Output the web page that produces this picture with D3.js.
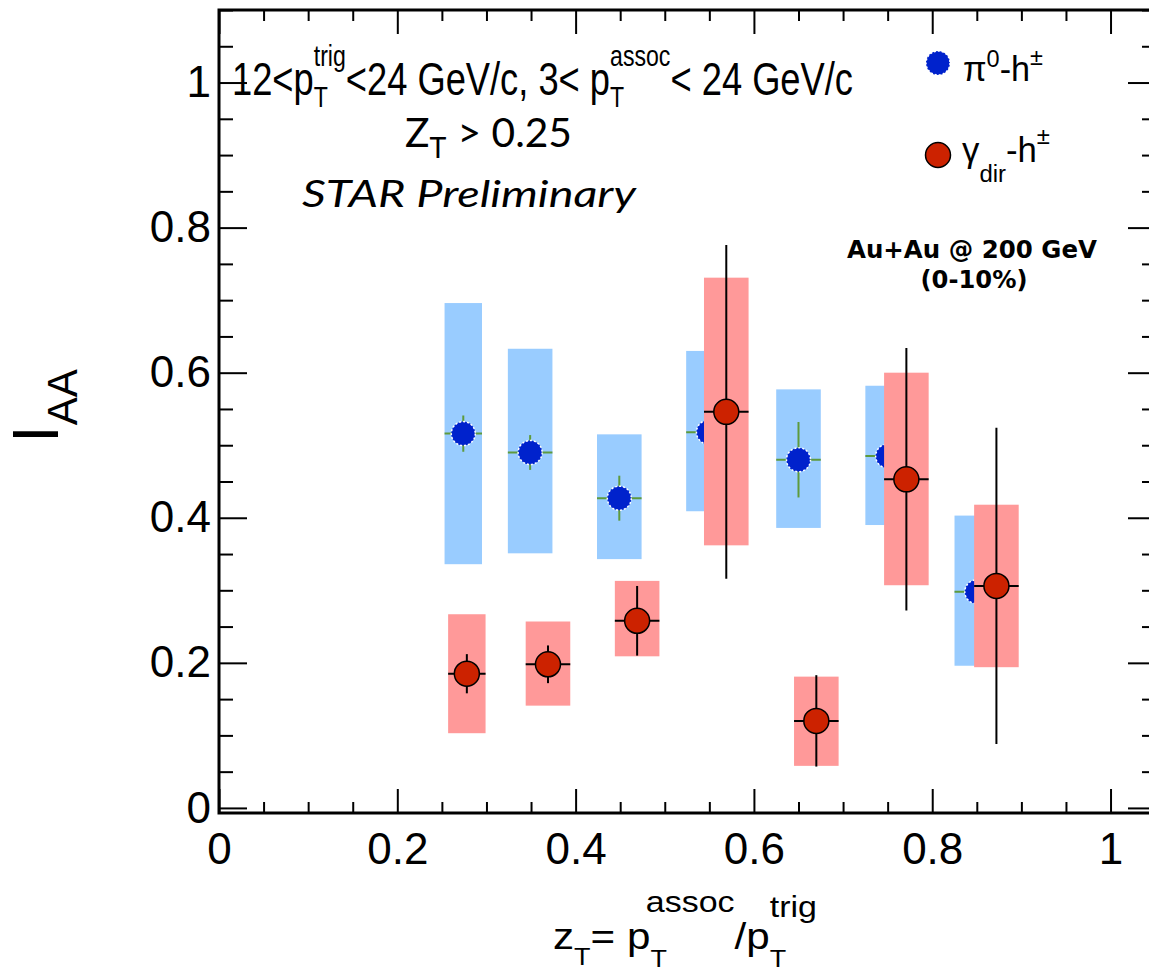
<!DOCTYPE html>
<html>
<head>
<meta charset="utf-8">
<script src="https://cdn.jsdelivr.net/npm/d3@7"></script>
<style>
  html, body { margin: 0; padding: 0; background: #fff; }
  svg { display: block; }
</style>
</head>
<body>
<svg id="chart" width="1149" height="974"></svg>
<script>
// ---- data: I_AA vs z_T, Au+Au 200 GeV (0-10%) ----
// pi0-h± correlations
const pionZt      = [0.274, 0.349, 0.449, 0.549, 0.650, 0.750, 0.850];
const pionIaa     = [0.516, 0.490, 0.427, 0.518, 0.480, 0.485, 0.298];
const pionStat    = [0.025, 0.024, 0.031, 0.025, 0.052, 0.030, 0.030];
const pionSysLo   = [0.336, 0.351, 0.343, 0.409, 0.386, 0.390, 0.196];
const pionSysHi   = [0.696, 0.633, 0.515, 0.630, 0.577, 0.582, 0.403];
const pionHalfBin = [0.021, 0.025, 0.025, 0.025, 0.025, 0.025, 0.025];

// direct gamma-h± correlations
const gammaZt      = [0.278, 0.369, 0.469, 0.569, 0.670, 0.771, 0.872];
const gammaIaa     = [0.185, 0.198, 0.258, 0.546, 0.120, 0.453, 0.306];
const gammaStat    = [0.027, 0.026, 0.048, 0.230, 0.063, 0.181, 0.218];
const gammaSysLo   = [0.103, 0.141, 0.209, 0.362, 0.058, 0.307, 0.194];
const gammaSysHi   = [0.267, 0.257, 0.313, 0.731, 0.181, 0.600, 0.418];
const gammaHalfBin = [0.021, 0.025, 0.025, 0.025, 0.025, 0.025, 0.025];

// axis ticks
const xMajorTicks = [0, 0.2, 0.4, 0.6, 0.8, 1];
const xTickLabels = ["0", "0.2", "0.4", "0.6", "0.8", "1"];
const yMajorTicks = [0, 0.2, 0.4, 0.6, 0.8, 1];
const yTickLabels = ["0", "0.2", "0.4", "0.6", "0.8", "1"];
const minorStep = 0.05;

// ---- layout ----
const frame = { left: 219, right: 1156, top: 10, bottom: 813 };
const svg = d3.select("#chart");

const x = d3.scaleLinear().domain([0, 1.051]).range([frame.left, frame.right]);
const y = d3.scaleLinear().domain([-0.007, 1.1]).range([frame.bottom, frame.top]);

const colors = {
  pionBox: "#99ccff", pionDot: "#0022cc", pionErr: "#5e9a3c",
  gammaBox: "#ff9999", gammaDot: "#cc2200", gammaErr: "#000000"
};

function series(zt, iaa, stat, lo, hi, half) {
  return zt.map((z, i) => ({ z, v: iaa[i], e: stat[i], lo: lo[i], hi: hi[i], h: half[i] }));
}
const pion = series(pionZt, pionIaa, pionStat, pionSysLo, pionSysHi, pionHalfBin);
const gamma = series(gammaZt, gammaIaa, gammaStat, gammaSysLo, gammaSysHi, gammaHalfBin);

const plot = svg.append("g");

function drawSeries(data, boxColor, errColor, dotColor, dotStroke, dash, r, errW) {
  const g = plot.append("g");
  g.selectAll("rect.sys").data(data).join("rect")
    .attr("x", d => x(d.z - d.h)).attr("width", d => x(d.z + d.h) - x(d.z - d.h))
    .attr("y", d => y(d.hi)).attr("height", d => y(d.lo) - y(d.hi))
    .attr("fill", boxColor);
  g.selectAll("line.ev").data(data).join("line")
    .attr("x1", d => x(d.z)).attr("x2", d => x(d.z))
    .attr("y1", d => y(d.v + d.e)).attr("y2", d => y(d.v - d.e))
    .attr("stroke", errColor).attr("stroke-width", errW);
  g.selectAll("line.eh").data(data).join("line")
    .attr("x1", d => x(d.z - d.h)).attr("x2", d => x(d.z + d.h))
    .attr("y1", d => y(d.v)).attr("y2", d => y(d.v))
    .attr("stroke", errColor).attr("stroke-width", errW);
  g.selectAll("circle").data(data).join("circle")
    .attr("cx", d => x(d.z)).attr("cy", d => y(d.v)).attr("r", r)
    .attr("fill", dotColor).attr("stroke", dotStroke).attr("stroke-width", 1.5)
    .attr("stroke-dasharray", dash);
}
drawSeries(pion, colors.pionBox, colors.pionErr, colors.pionDot, "#ffffff", "2,2", 12, 2);
drawSeries(gamma, colors.gammaBox, colors.gammaErr, colors.gammaDot, "#000000", null, 12.5, 2);

// ---- frame and ticks ----
const minorX = d3.range(0, 1.0501, minorStep).filter(v => !xMajorTicks.some(t => Math.abs(t - v) < 1e-6));
const minorY = d3.range(0, 1.1001, minorStep).filter(v => !yMajorTicks.some(t => Math.abs(t - v) < 1e-6));
const fontMain = "'Liberation Sans', Arial, Helvetica, sans-serif";

function styleAxis(g) {
  g.select(".domain").remove();
  g.selectAll(".tick line").attr("stroke", "#000").attr("stroke-width", 2);
  g.selectAll(".tick text").attr("fill", "#000").style("font-family", fontMain).style("font-size", "44px");
}

// bottom
svg.append("g").attr("transform", `translate(0,${frame.bottom})`)
  .call(d3.axisBottom(x).tickValues(xMajorTicks).tickSize(-24).tickPadding(20)
        .tickFormat((d, i) => xTickLabels[i])).call(styleAxis);
svg.append("g").attr("transform", `translate(0,${frame.bottom})`)
  .call(d3.axisBottom(x).tickValues(minorX).tickSize(-11).tickFormat("")).call(styleAxis);
// top
svg.append("g").attr("transform", `translate(0,${frame.top})`)
  .call(d3.axisTop(x).tickValues(xMajorTicks).tickSize(-24).tickFormat("")).call(styleAxis);
svg.append("g").attr("transform", `translate(0,${frame.top})`)
  .call(d3.axisTop(x).tickValues(minorX).tickSize(-11).tickFormat("")).call(styleAxis);
// left
svg.append("g").attr("transform", `translate(${frame.left},0)`)
  .call(d3.axisLeft(y).tickValues(yMajorTicks).tickSize(-28).tickPadding(8)
        .tickFormat((d, i) => yTickLabels[i])).call(styleAxis);
svg.append("g").attr("transform", `translate(${frame.left},0)`)
  .call(d3.axisLeft(y).tickValues(minorY).tickSize(-14).tickFormat("")).call(styleAxis);
// right
svg.append("g").attr("transform", `translate(${frame.right},0)`)
  .call(d3.axisRight(y).tickValues(yMajorTicks).tickSize(-28).tickFormat("")).call(styleAxis);
svg.append("g").attr("transform", `translate(${frame.right},0)`)
  .call(d3.axisRight(y).tickValues(minorY).tickSize(-14).tickFormat("")).call(styleAxis);

svg.append("rect")
  .attr("x", frame.left).attr("y", frame.top)
  .attr("width", frame.right - frame.left).attr("height", frame.bottom - frame.top)
  .attr("fill", "none").attr("stroke", "#000").attr("stroke-width", 3);

// ---- rich text helper: runs of text with stacked sub/superscripts ----
// items: {t, fs, dy} plain run, or {sup, sub, fs, supDy, subDy} stacked scripts
function rich(parent, x0, y0, items, opts = {}) {
  const g = parent.append("g");
  const inner = g.append("g");
  let cx = 0;
  const family = opts.family || fontMain;
  function put(t, fs, dy, shift) {
    const el = inner.append("text").attr("x", cx + (shift || 0)).attr("y", dy || 0)
      .style("font-family", family).style("font-size", fs + "px")
      .style("font-style", opts.italic ? "italic" : "normal")
      .style("font-weight", opts.bold ? "bold" : "normal")
      .attr("fill", "#000").text(t);
    return el.node().getComputedTextLength() + (shift || 0);
  }
  items.forEach(it => {
    if (it.t !== undefined) {
      cx += put(it.t, it.fs, it.dy) + (it.gap || 0);
    } else {
      let w = 0;
      if (it.sup) w = Math.max(w, put(it.sup, it.supFs || it.fs, it.supDy, it.supShift));
      if (it.sub) w = Math.max(w, put(it.sub, it.fs, it.subDy));
      cx += w + (it.gap || 0);
    }
  });
  const sx = opts.width ? opts.width / cx : 1;
  const sy = opts.sy || 1;
  g.attr("transform", `translate(${x0},${y0})` + (opts.rotate ? ` rotate(${opts.rotate})` : ""));
  inner.attr("transform", `scale(${sx},${sy})`);
  return g;
}

// kinematic selection
rich(svg, 232, 95, [
  { t: "12<p", fs: 44 },
  { sup: "trig", sub: "T", fs: 28, supDy: -28, subDy: 11 },
  { t: "<24 GeV/c, 3< p", fs: 44 },
  { sup: "assoc", sub: "T", fs: 28, supDy: -28, subDy: 11 },
  { t: "< 24 GeV/c", fs: 44 }
], { width: 621, sy: 1.05 });

// z_T cut and preliminary tag
const fontCal = "Lato, 'Open Sans', sans-serif";
rich(svg, 405, 147, [
  { t: "Z", fs: 40 },
  { sub: "T", fs: 28, subDy: 11, gap: 11 },
  { t: "> 0.25", fs: 40 }
], { family: fontCal, width: 167 });
rich(svg, 302, 207, [
  { t: "STAR Preliminary", fs: 37 }
], { family: fontCal, italic: true, width: 334 });

// collision system
const fontSys = "'DejaVu Sans', Verdana, sans-serif";
svg.append("text").attr("x", 972).attr("y", 258).attr("text-anchor", "middle")
  .style("font-family", fontSys).style("font-weight", "bold")
  .style("font-size", "24px").attr("textLength", 250).attr("lengthAdjust", "spacingAndGlyphs")
  .text("Au+Au @ 200 GeV");
svg.append("text").attr("x", 974).attr("y", 288).attr("text-anchor", "middle")
  .style("font-family", fontSys).style("font-weight", "bold")
  .style("font-size", "24px").attr("textLength", 107).attr("lengthAdjust", "spacingAndGlyphs")
  .text("(0-10%)");

// legend
const legend = svg.append("g");
legend.append("circle").attr("cx", 938).attr("cy", 63).attr("r", 12)
  .attr("fill", colors.pionDot).attr("stroke", "#ffffff").attr("stroke-width", 1.5).attr("stroke-dasharray", "2,2");
rich(legend, 963, 81, [
  { t: "\u03c0", fs: 32 },
  { sup: "0", fs: 22, supDy: -13 },
  { t: "-h", fs: 32 },
  { sup: "\u00b1", fs: 22, supDy: -15 }
], { width: 80, sy: 1.1 });
legend.append("circle").attr("cx", 938).attr("cy", 155).attr("r", 12.5)
  .attr("fill", colors.gammaDot).attr("stroke", "#000").attr("stroke-width", 1.5);
rich(legend, 962, 162, [
  { t: "\u03b3", fs: 32 },
  { sub: "dir", fs: 22, subDy: 18 },
  { t: "-h", fs: 32 },
  { sup: "\u00b1", fs: 22, supDy: -16 }
], { width: 88, sy: 1.1 });

// axis titles
rich(svg, 553, 949, [
  { t: "z", fs: 36 },
  { sub: "T", fs: 23, subDy: 16 },
  { t: "= p", fs: 36 },
  { sup: "assoc", sub: "T", fs: 23, supFs: 29, supDy: -36, subDy: 18, supShift: -4 },
  { t: "/p", fs: 36 },
  { sup: "trig", sub: "T", fs: 23, supFs: 29, supDy: -31, subDy: 18 }
], { width: 264, sy: 1.02 });

rich(svg, 58, 443, [
  { t: "I", fs: 64 },
  { sub: "AA", fs: 42, subDy: 19 }
], { rotate: -90 });
</script>
</body>
</html>
